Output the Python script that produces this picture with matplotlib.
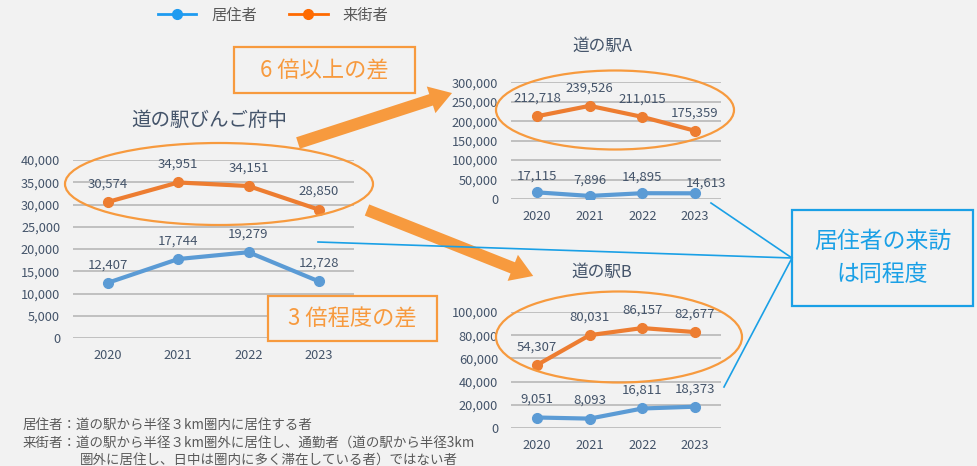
import matplotlib
matplotlib.use("Agg")
import matplotlib.pyplot as plt
from matplotlib.lines import Line2D
from matplotlib.patches import Ellipse, Rectangle, FancyArrow

plt.rcParams['font.family'] = ['Noto Sans CJK JP', 'DejaVu Sans']

# ---- data ----
years = ["2020", "2021", "2022", "2023"]
series_names = ["居住者", "来街者"]

fuchu_resident = [12407, 17744, 19279, 12728]
fuchu_visitor = [30574, 34951, 34151, 28850]
a_resident = [17115, 7896, 14895, 14613]
a_visitor = [212718, 239526, 211015, 175359]
b_resident = [9051, 8093, 16811, 18373]
b_visitor = [54307, 80031, 86157, 82677]

title_fuchu = "道の駅びんご府中"
title_a = "道の駅A"
title_b = "道の駅B"

fuchu_ticks = list(range(0, 40001, 5000))
a_ticks = list(range(0, 300001, 50000))
b_ticks = list(range(0, 100001, 20000))

note_lines = ["居住者：道の駅から半径３km圏内に居住する者",
              "来街者：道の駅から半径３km圏外に居住し、通勤者（道の駅から半径3km",
              "圏外に居住し、日中は圏内に多く滞在している者）ではない者"]
box6_text = "6 倍以上の差"
box3_text = "3 倍程度の差"
boxblue_text = "居住者の来訪\nは同程度"

# ---- style ----
BG = "#f2f2f2"
TXT = "#44546a"
C_RES = "#5b9bd5"
C_VIS = "#ed7d31"
C_RES_LEG = "#1e9bf0"
C_VIS_LEG = "#ff6a00"
ORANGE = "#f79a3e"
BLUE = "#1aa0e6"
GRID = "#bcbcbc"

W, H = 978, 466
fig = plt.figure(figsize=(W / 100, H / 100), dpi=100, facecolor=BG)


def px_axes(x0, x1, ytop, ybot):
    return fig.add_axes([x0 / W, 1 - ybot / H, (x1 - x0) / W, (ybot - ytop) / H])


def draw_chart(ax, res, vis, ticks, res_off=18, vis_off=18, fs=9.5, last_res_shift=(0, 0)):
    ax.set_facecolor("none")
    x = list(range(len(years)))
    ax.plot(x, res, color=C_RES, lw=3, marker="o", ms=7, solid_capstyle="round", zorder=3)
    ax.plot(x, vis, color=C_VIS, lw=3, marker="o", ms=7, solid_capstyle="round", zorder=3)
    for i, (xi, v) in enumerate(zip(x, res)):
        dx, dy = (last_res_shift if i == len(x) - 1 else (0, 0))
        ax.annotate(f"{v:,}", (xi, v), xytext=(dx * 0.72, (res_off + dy) * 0.72),
                    textcoords="offset points",
                    ha="center", va="center", fontsize=fs, color=TXT, zorder=4)
    for xi, v in zip(x, vis):
        ax.annotate(f"{v:,}", (xi, v), xytext=(0, vis_off * 0.72), textcoords="offset points",
                    ha="center", va="center", fontsize=fs, color=TXT, zorder=4)
    ax.set_xlim(-0.5, len(years) - 0.5)
    ax.set_ylim(ticks[0], ticks[-1])
    ax.set_yticks(ticks)
    ax.set_yticklabels([f"{t:,}" for t in ticks])
    ax.set_xticks(x)
    ax.set_xticklabels(years)
    ax.tick_params(length=0, labelsize=9.2, labelcolor=TXT)
    ax.tick_params(axis="x", pad=8)
    ax.tick_params(axis="y", pad=9)
    for s in ax.spines.values():
        s.set_visible(False)
    ax.grid(axis="y", color=GRID, lw=1.3, zorder=0)
    ax.set_axisbelow(True)


ax_l = px_axes(72.7, 354, 160, 338)
draw_chart(ax_l, fuchu_resident, fuchu_visitor, fuchu_ticks)
ax_a = px_axes(510.6, 721.4, 82.3, 199)
draw_chart(ax_a, a_resident, a_visitor, a_ticks, res_off=16, last_res_shift=(11, -6))
ax_b = px_axes(510.6, 721.4, 312, 428)
draw_chart(ax_b, b_resident, b_visitor, b_ticks)

# overlay in pixel coordinates for annotations
ov = fig.add_axes([0, 0, 1, 1], zorder=10)
ov.set_xlim(0, W)
ov.set_ylim(H, 0)
ov.axis("off")
ov.patch.set_visible(False)

ov.text(209, 120, title_fuchu, ha="center", va="center", fontsize=14, color=TXT)
ov.text(602, 46, title_a, ha="center", va="center", fontsize=12, color=TXT)
ov.text(602, 272, title_b, ha="center", va="center", fontsize=12, color=TXT)

# ellipses
for (cx, cy, ew, eh) in [(219, 184, 308, 82), (615, 110, 238, 79), (619, 337, 246, 91)]:
    ov.add_patch(Ellipse((cx, cy), ew, eh, fill=False, ec=ORANGE, lw=1.6))

# arrows
ov.add_patch(FancyArrow(298, 143, 154 - 22 * 0.95, -50 + 22 * 0.31, width=12, head_width=28,
                        head_length=22, length_includes_head=False, color=ORANGE, lw=0))
ov.add_patch(FancyArrow(367, 210, 166 - 22 * 0.92, 66 - 22 * 0.37, width=12, head_width=28,
                        head_length=22, length_includes_head=False, color=ORANGE, lw=0))

# orange boxes
ov.add_patch(Rectangle((234, 47), 181, 46, fc=BG, ec=ORANGE, lw=1.6))
ov.text(324.5, 71, box6_text, ha="center", va="center", fontsize=16, color=ORANGE)
ov.add_patch(Rectangle((268, 296), 169, 45, fc=BG, ec=ORANGE, lw=1.6))
ov.text(352.5, 319, box3_text, ha="center", va="center", fontsize=16, color=ORANGE)

# blue connectors and box
for (sx, sy) in [(318, 242), (711, 203), (724, 387)]:
    ov.plot([sx, 792], [sy, 258], color=BLUE, lw=1.2)
ov.add_patch(Rectangle((792, 210), 181, 96, fc=BG, ec=BLUE, lw=1.6))
ov.text(882.5, 258, boxblue_text, ha="center", va="center", fontsize=16.5, color=BLUE,
        linespacing=1.55)

# footnote
ov.text(23, 425, note_lines[0], ha="left", va="center", fontsize=9.7, color="#595959")
ov.text(23, 443, note_lines[1], ha="left", va="center", fontsize=9.7, color="#595959")
ov.text(80, 460, note_lines[2], ha="left", va="center", fontsize=9.7, color="#595959")

# legend
handles = [Line2D([], [], color=C_RES_LEG, lw=2, marker="o", ms=7),
           Line2D([], [], color=C_VIS_LEG, lw=2, marker="o", ms=7)]
fig.legend(handles, series_names, loc="center left", bbox_to_anchor=(158 / W, 1 - 15 / H),
           ncol=2, frameon=False, fontsize=11, labelcolor="#595959", handlelength=2.5,
           handletextpad=1.0, columnspacing=2.1, borderpad=0, borderaxespad=0)

fig.savefig("out.png", dpi=100, facecolor=BG)
